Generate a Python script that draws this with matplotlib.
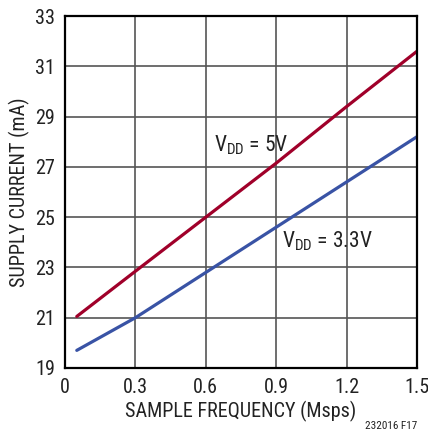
import matplotlib.pyplot as plt

plt.rcParams['font.family'] = ['Roboto Condensed', 'Liberation Sans', 'DejaVu Sans']
plt.rcParams['mathtext.fontset'] = 'custom'
plt.rcParams['mathtext.rm'] = 'Roboto Condensed'

freq = [0.05, 0.3, 0.6, 0.9, 1.2, 1.5]
i_5v = [21.05, 22.85, 25.0, 27.15, 29.4, 31.6]
i_33v = [19.7, 21.0, 22.8, 24.6, 26.4, 28.2]

xticks = [0, 0.3, 0.6, 0.9, 1.2, 1.5]
xticklabels = ['0', '0.3', '0.6', '0.9', '1.2', '1.5']
yticks = [19, 21, 23, 25, 27, 29, 31, 33]

fig = plt.figure(figsize=(4.28, 4.37), dpi=100)
ax = fig.add_axes([0.152, 0.158, 0.822, 0.805])

ax.plot(freq, i_5v, color='#a0002a', lw=2.3, solid_capstyle='round')
ax.plot(freq, i_33v, color='#3953a5', lw=2.3, solid_capstyle='round')

ax.set_xlim(0, 1.5)
ax.set_ylim(19, 33)
ax.set_xticks(xticks)
ax.set_xticklabels(xticklabels)
ax.set_yticks(yticks)
ax.tick_params(length=0, labelsize=14.5, pad=7, colors='#222222')
ax.grid(True, color='#555555', lw=1.2)
for s in ax.spines.values():
    s.set_linewidth(1.6)

ax.set_xlabel('SAMPLE FREQUENCY (Msps)', fontsize=14.5, color='#222222', labelpad=3)
ax.set_ylabel('SUPPLY CURRENT (mA)', fontsize=14.5, color='#222222', labelpad=4)

ax.text(0.635, 27.85, r'V$_{\mathrm{DD}}$ = 5V', fontsize=15.5, color='#222222', va='center')
ax.text(0.925, 24.05, r'V$_{\mathrm{DD}}$ = 3.3V', fontsize=15.5, color='#222222', va='center')

fig.text(0.975, 0.018, '232016 F17', fontsize=8, ha='right', color='#222222')

fig.savefig('out.png', dpi=100)
